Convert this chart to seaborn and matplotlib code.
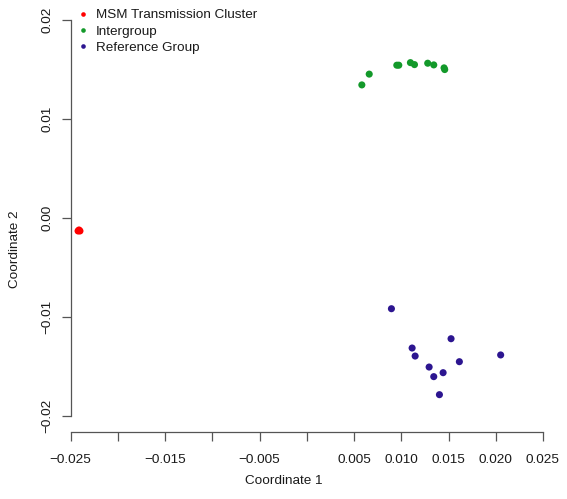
import matplotlib
matplotlib.use("Agg")
import matplotlib.pyplot as plt
import seaborn as sns
import pandas as pd

# ---- data ----
groups = ["MSM Transmission Cluster", "Intergroup", "Reference Group"]
colors = ["#ff0000", "#13992a", "#2c1590"]

msm_x = [-0.0242, -0.0241, -0.0240]
msm_y = [-0.0013, -0.0012, -0.0013]

inter_x = [0.00583, 0.00661, 0.00953, 0.00974, 0.01097, 0.01140, 0.01280, 0.01344, 0.01453, 0.01460]
inter_y = [0.01345, 0.01454, 0.01544, 0.01544, 0.01570, 0.01550, 0.01564, 0.01547, 0.01517, 0.01500]

ref_x = [0.00896, 0.01527, 0.01115, 0.01147, 0.02052, 0.01615, 0.01295, 0.01443, 0.01344, 0.01404]
ref_y = [-0.00915, -0.01218, -0.01312, -0.01393, -0.01382, -0.01450, -0.01504, -0.01561, -0.01601, -0.01783]

x_ticks = [-0.025, -0.020, -0.015, -0.010, -0.005, 0.0, 0.005, 0.010, 0.015, 0.020, 0.025]
x_tick_labels = ["\u22120.025", "", "\u22120.015", "", "\u22120.005", "", "0.005", "0.010", "0.015", "0.020", "0.025"]
y_ticks = [-0.02, -0.01, 0.0, 0.01, 0.02]
y_tick_labels = ["\u22120.02", "\u22120.01", "0.00", "0.01", "0.02"]

df = pd.DataFrame({
    "x": msm_x + inter_x + ref_x,
    "y": msm_y + inter_y + ref_y,
    "group": [groups[0]] * len(msm_x) + [groups[1]] * len(inter_x) + [groups[2]] * len(ref_x),
})

sns.set_style("white")
plt.rcParams["font.family"] = ["Liberation Sans", "DejaVu Sans"]
fs = 9.7
axis_color = "#555555"
text_color = "#1a1a1a"

fig = plt.figure(figsize=(5.67, 4.99), dpi=100)
ax = fig.add_axes([70.5 / 567, (499 - 432) / 499, (543 - 70.5) / 567, (432 - 4.2) / 499])

sns.scatterplot(data=df, x="x", y="y", hue="group", hue_order=groups,
                palette=dict(zip(groups, colors)), s=26, linewidth=0,
                ax=ax, clip_on=False, legend=True)

ax.set_xlim(-0.025, 0.025)
ax.set_ylim(-0.0216, 0.0216)

for side in ["top", "right"]:
    ax.spines[side].set_visible(False)
for side in ["left", "bottom"]:
    ax.spines[side].set_color(axis_color)
    ax.spines[side].set_linewidth(0.9)
ax.spines["left"].set_bounds(-0.02, 0.02)
ax.spines["bottom"].set_bounds(-0.025, 0.025)

ax.set_xticks(x_ticks)
ax.set_xticklabels(x_tick_labels, fontsize=fs)
ax.set_yticks(y_ticks)
ax.set_yticklabels(y_tick_labels, fontsize=fs, rotation=90, va="center")
ax.tick_params(axis="x", direction="out", length=6.5, width=0.9, color=axis_color,
               pad=9.0, labelcolor=text_color, bottom=True)
ax.tick_params(axis="y", direction="out", length=6.5, width=0.9, color=axis_color,
               pad=6.0, labelcolor=text_color, left=True)

ax.set_xlabel("Coordinate 1", fontsize=fs, color=text_color)
ax.set_ylabel("Coordinate 2", fontsize=fs, color=text_color)
ax.xaxis.set_label_coords(0.5, (499 - 481) / 499, transform=fig.transFigure)
ax.yaxis.set_label_coords(15 / 567, 0.5, transform=fig.transFigure)
ax.yaxis.label.set_va("center")
ax.xaxis.label.set_va("center")

sns.move_legend(ax, loc="upper left", bbox_to_anchor=(78.7 / 567, 1 - 9 / 499),
                bbox_transform=fig.transFigure, frameon=False, title=None,
                fontsize=fs, handlelength=0.6, handletextpad=0.7,
                labelspacing=0.28, borderpad=0, borderaxespad=0, markerscale=0.65)
for t in ax.get_legend().get_texts():
    t.set_color(text_color)

fig.savefig("out.png", dpi=100)
